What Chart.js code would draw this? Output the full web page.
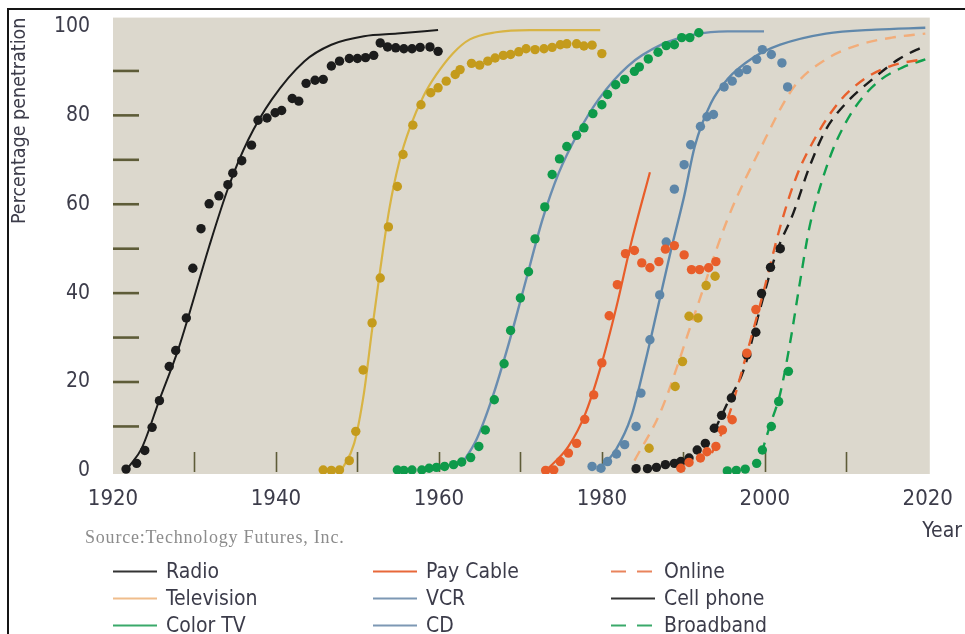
<!DOCTYPE html>
<html>
<head>
<meta charset="utf-8">
<script src="https://cdn.jsdelivr.net/npm/chart.js@4.4.1/dist/chart.umd.min.js"></script>
<style>
  body { margin: 0; background: #fff; }
  #wrap { position: relative; width: 965px; height: 634px; overflow: hidden; }
  #frame { position: absolute; left: 7px; top: 8px; width: 990px; height: 700px; border: 2px solid #151515; }
  #chart { position: absolute; left: 0; top: -18px; }
  .cond { font-family: "DejaVu Sans Condensed", "DejaVu Sans", sans-serif; color: #3c3c4a; }
  #source { position: absolute; left: 85px; top: 527px; font: 18px "Liberation Serif", serif; color: #8c8c8c; letter-spacing: 0.8px; }
  #year { position: absolute; right: 3px; top: 518px; font-size: 21px; }
  .item { position: absolute; height: 26px; font-size: 21px; line-height: 26px; white-space: nowrap; }
  .item svg { position: absolute; left: 0; top: 12px; }
  .item span { position: absolute; left: 53px; top: 0; }
</style>
</head>
<body>
<div id="wrap">
  <canvas id="chart" width="965" height="538"></canvas>
  <div id="frame"></div>
  <div id="source">Source:Technology Futures, Inc.</div>
  <div id="year" class="cond">Year</div>
  <div id="legend"></div>
</div>
<script>
// axis ticks
const xTickLabels = [1920, 1940, 1960, 1980, 2000, 2020];
const yTickLabels = [0, 20, 40, 60, 80, 100];
const xMinorTicks = [1930, 1940, 1950, 1960, 1970, 1980, 1990, 2000, 2010];
const yMinorTicks = [10, 20, 30, 40, 50, 60, 70, 80, 90];

// observed data points [year, percent]
const radioDots = [[1921.6,0.4],[1922.9,1.7],[1923.9,4.6],[1924.8,9.8],[1925.7,15.8],[1926.9,23.5],[1927.7,27.1],[1929.0,34.4],[1929.8,45.6],[1930.8,54.5],[1931.8,60.1],[1933.0,61.9],[1934.1,64.4],[1934.7,67.0],[1935.8,69.8],[1937.0,73.3],[1937.8,78.9],[1938.9,79.4],[1939.9,80.6],[1940.7,81.1],[1942.0,83.8],[1942.8,83.2],[1943.7,87.2],[1944.8,87.9],[1945.8,88.1],[1946.8,91.1],[1947.8,92.2],[1949.0,92.8],[1950.0,92.8],[1951.0,93.0],[1952.0,93.5],[1952.8,96.3],[1953.7,95.4],[1954.7,95.2],[1955.7,95.0],[1956.7,95.0],[1957.7,95.3],[1958.9,95.4],[1959.9,94.4]];
const tvDots = [[1945.8,0.2],[1946.8,0.1],[1947.8,0.2],[1949.0,2.3],[1949.8,8.9],[1950.7,22.7],[1951.8,33.3],[1952.8,43.4],[1953.8,54.9],[1954.9,64.0],[1955.6,71.2],[1956.8,77.8],[1957.8,82.4],[1959.0,85.1],[1959.9,86.2],[1960.9,87.7],[1962.0,89.2],[1962.6,90.3],[1964.0,91.7],[1965.0,91.3],[1966.0,92.2],[1966.9,92.9],[1967.9,93.5],[1968.8,93.7],[1969.8,94.3],[1970.7,95.0],[1971.8,94.8],[1972.9,95.0],[1973.9,95.3],[1974.9,95.9],[1975.7,96.1],[1976.9,96.1],[1977.8,95.6],[1978.8,95.8],[1980.0,93.9]];
const colorTvDots = [[1954.9,0.2],[1955.7,0.1],[1956.7,0.2],[1957.9,0.2],[1958.8,0.6],[1959.7,0.8],[1960.7,1.0],[1961.8,1.4],[1962.8,2.0],[1963.9,3.0],[1964.9,5.5],[1965.7,9.2],[1966.8,16.0],[1968.0,24.1],[1968.8,31.6],[1970.0,38.9],[1971.0,44.8],[1971.8,52.2],[1973.0,59.4],[1973.9,66.7],[1974.8,70.2],[1975.7,73.0],[1976.9,75.5],[1977.8,77.2],[1978.9,80.4],[1980.0,82.4],[1980.7,84.7],[1981.7,86.9],[1982.8,88.1],[1984.0,89.9],[1984.6,90.9],[1985.7,92.7],[1986.9,94.2],[1987.9,95.7],[1988.9,95.9],[1989.8,97.5],[1990.8,97.5],[1991.9,98.6]];
const payCableDots = [[1973.1,0.1],[1974.1,0.2],[1974.9,2.1],[1975.9,4.0],[1976.9,6.2],[1977.9,11.6],[1979.0,17.1],[1980.0,24.3],[1980.9,34.9],[1981.9,41.9],[1982.9,48.9],[1984.0,49.6],[1984.9,46.8],[1985.9,45.7],[1987.0,47.1],[1987.8,49.9],[1988.9,50.7],[1990.1,48.6],[1991.0,45.3],[1992.0,45.3],[1993.1,45.7],[1994.0,47.1]];
const vcrDots = [[1978.8,1.0],[1979.9,0.6],[1980.7,2.1],[1981.8,3.8],[1982.8,5.9],[1984.2,10.0],[1984.8,17.5],[1985.9,29.5],[1987.1,39.6],[1987.9,51.5],[1988.9,63.4],[1990.1,68.9],[1990.9,73.4],[1992.1,77.5],[1992.9,79.7],[1993.7,80.2],[1995.0,86.4],[1996.0,87.7],[1996.8,89.6],[1997.8,90.3],[1999.0,92.6],[1999.7,94.8],[2000.8,93.7],[2002.1,91.8],[2002.8,86.4]];
const cdDots = [[1985.8,5.1],[1989.0,19.0],[1989.9,24.6],[1990.7,34.8],[1991.8,34.4],[1992.8,41.7],[1993.9,43.8]];
const cellDots = [[1984.2,0.5],[1985.6,0.5],[1986.7,0.8],[1987.8,1.4],[1988.9,1.7],[1989.7,2.1],[1990.7,2.9],[1991.7,4.7],[1992.7,6.2],[1993.8,9.6],[1994.7,12.5],[1995.9,16.4],[1997.8,26.1],[1998.9,31.2],[1999.6,39.9],[2000.7,45.8],[2001.9,50.0]];
const onlineDots = [[1989.7,0.6],[1990.7,1.9],[1992.1,2.9],[1992.9,4.3],[1994.0,5.5],[1994.8,9.2],[1996.0,11.5],[1997.8,26.5],[1998.9,36.3]];
const broadbandDots = [[1995.4,0.0],[1996.5,0.1],[1997.6,0.4],[1999.0,1.7],[1999.7,4.7],[2000.8,10.0],[2001.7,15.6],[2002.9,22.4]];

// fitted curves [year, percent]
const radioFit = [[1921.9,0.8],[1923.5,5],[1925.7,16],[1928.0,27.3],[1929.4,35.6],[1931.8,50.5],[1934.2,64],[1936.6,74.5],[1939.5,83.6],[1943.5,92.2],[1946.8,95.9],[1950.8,97.8],[1954.9,98.4],[1959.9,99.2]];
const tvFit = [[1948.0,0],[1949.6,6.2],[1950.8,17.5],[1951.8,31.8],[1952.8,45.3],[1953.9,58.8],[1955.1,69.3],[1956.5,77.5],[1958.1,84.3],[1959.7,89.2],[1961.8,94.1],[1963.8,97.1],[1967.0,98.7],[1971.1,99.2],[1979.8,99.2]];
const colorTvFit = [[1962.6,1.0],[1964.6,7.0],[1966.6,16.7],[1968.6,28.8],[1970.7,43.0],[1972.7,56.5],[1974.7,67.0],[1977.1,76.1],[1979.6,83.6],[1983.2,91.1],[1987.3,95.9],[1991.4,98.2],[1995.4,98.9],[1999.9,98.9]];
const payCableFit = [[1973.1,0],[1975.9,5.5],[1978.0,13.0],[1980.0,24.3],[1981.8,37.0],[1983.6,51.3],[1985.9,67.2]];
const vcrFit = [[1979.4,0],[1981.7,4.7],[1983.6,12.2],[1985.3,24.3],[1986.9,37.0],[1988.5,49.8],[1990.1,61.8],[1991.4,73.0],[1993.4,82.8],[1995.4,88.1],[1998.6,93.0],[2001.9,95.9],[2007.5,98.4],[2013.6,99.3],[2019.7,99.7]];
const cdFit = [[1984.0,2.3],[1987.3,13.7],[1991.3,34.8],[1995.4,56.5],[1999.4,72.3],[2003.5,86.2],[2007.5,92.6],[2011.6,95.9],[2015.6,97.5],[2019.7,98.4]];
const onlineFit = [[1993.5,4.0],[1995.4,11.5],[1997.8,26.5],[1999.8,40.0],[2001.9,55.0],[2003.9,66.3],[2006.3,75.3],[2009.2,83.2],[2012.4,88.4],[2015.6,91.2],[2019.7,92.7]];
const cellFit = [[1993.8,9.0],[1995.4,15.2],[1997.4,22.7],[1999.4,36.3],[2001.4,49.0],[2003.5,58.0],[2005.5,68.5],[2007.5,76.8],[2010.0,82.8],[2013.2,88.1],[2016.4,92.6],[2019.7,95.7]];
const broadbandFit = [[1999.6,4.0],[2000.6,10.0],[2001.9,17.5],[2003.1,28.8],[2004.3,42.3],[2005.5,55.0],[2007.2,66.3],[2008.7,73.8],[2011.2,82.1],[2014.0,87.7],[2016.8,90.7],[2019.7,92.6]];

// legend, in reading order (3 columns)
const legendLabels = ['Radio', 'Pay Cable', 'Online', 'Television', 'VCR', 'Cell phone', 'Color TV', 'CD', 'Broadband'];
const legendColors = ['#333333', '#e8683a', '#e9845c', '#f0bd8c', '#7d98b4', '#333333', '#3aa96a', '#7d98b4', '#3aa96a'];
const legendDashed = [false, false, true, false, false, false, false, false, true];

const pts = arr => arr.map(p => ({ x: p[0], y: p[1] }));

function dots(label, data, color) {
  return { label, data: pts(data), showLine: false, pointRadius: 4.7, pointBorderWidth: 0,
           pointBackgroundColor: color, backgroundColor: color, order: 0 };
}
function fit(label, data, color, dashed, width) {
  return { label, data: pts(data), showLine: true, pointRadius: 0, borderColor: color,
           borderWidth: width || 2, borderDash: dashed ? [11, 8] : [], cubicInterpolationMode: 'monotone',
           fill: false, order: 1 };
}

const bgPlugin = {
  id: 'bg',
  beforeDraw(chart) {
    const { ctx, chartArea: a } = chart;
    ctx.save();
    ctx.fillStyle = '#dcd8cd';
    ctx.fillRect(a.left, a.top, a.right - a.left, a.bottom - a.top);
    ctx.restore();
  },
  // short tick marks drawn inside the plot
  beforeDatasetsDraw(chart) {
    const { ctx, chartArea: a, scales } = chart;
    ctx.save();
    ctx.strokeStyle = '#5e5c38';
    ctx.lineWidth = 1.6;
    xMinorTicks.forEach(v => {
      const px = Math.round(scales.x.getPixelForValue(v)) + 0.5;
      ctx.beginPath(); ctx.moveTo(px, a.bottom - 2); ctx.lineTo(px, a.bottom - 22); ctx.stroke();
    });
    ctx.lineWidth = 2.6;
    yMinorTicks.forEach(v => {
      const py = scales.y.getPixelForValue(v);
      ctx.beginPath(); ctx.moveTo(a.left, py); ctx.lineTo(a.left + 26, py); ctx.stroke();
    });
    ctx.restore();
  }
};

const FONT = '"DejaVu Sans Condensed", "DejaVu Sans", sans-serif';

new Chart(document.getElementById('chart'), {
  type: 'scatter',
  data: {
    datasets: [
      fit('Radio fit', radioFit, '#1c1c1c', false, 2),
      fit('Television fit', tvFit, '#d8b444', false, 2.2),
      fit('Color TV fit', colorTvFit, '#6a8db0', false, 2.4),
      fit('Pay Cable fit', payCableFit, '#e85d2a', false, 2.2),
      fit('VCR fit', vcrFit, '#6088ab', false, 2.4),
      fit('CD fit', cdFit, '#f2ad7a', true, 2.4),
      fit('Online fit', onlineFit, '#e8602c', true, 2.4),
      fit('Cell phone fit', cellFit, '#1c1c1c', true, 2.4),
      fit('Broadband fit', broadbandFit, '#12a04e', true, 2.4),
      dots('Radio', radioDots, '#1c1c1c'),
      dots('Television', tvDots, '#c49b1c'),
      dots('Color TV', colorTvDots, '#0e9a4a'),
      dots('Pay Cable', payCableDots, '#e85d2a'),
      dots('VCR', vcrDots, '#5d86a8'),
      dots('CD', cdDots, '#c49b1c'),
      dots('Online', onlineDots, '#e85d2a'),
      dots('Cell phone', cellDots, '#1c1c1c'),
      dots('Broadband', broadbandDots, '#0e9a4a')
    ]
  },
  options: {
    responsive: false,
    animation: false,
    layout: { padding: { left: 0, top: 0, right: 27, bottom: 0 } },
    plugins: { legend: { display: false }, tooltip: { enabled: false } },
    scales: {
      x: {
        type: 'linear', min: 1920, max: 2020.25,
        afterBuildTicks: s => { s.ticks = xTickLabels.map(v => ({ value: v })); },
        afterFit: s => { s.height = 46; },
        grid: { display: false, drawTicks: false },
        border: { display: false },
        ticks: { padding: 12, color: '#3c3c4a', font: { family: FONT, size: 22 }, maxRotation: 0, autoSkip: false,
                 callback: v => String(v) }
      },
      y: {
        type: 'linear', min: -0.7, max: 102,
        afterBuildTicks: s => { s.ticks = yTickLabels.map(v => ({ value: v })); },
        afterFit: s => { s.width = 113; },
        grid: { display: false, drawTicks: false },
        border: { display: false },
        ticks: { padding: 23, color: '#3c3c4a', font: { family: FONT, size: 21 } },
        title: { display: true, text: 'Percentage penetration', align: 'end', color: '#3c3c4a',
                 font: { family: FONT, size: 19.5 }, padding: { top: 8, bottom: 0 } }
      }
    }
  },
  plugins: [bgPlugin]
});

// legend built from the named arrays
const legend = document.getElementById('legend');
const colX = [113, 373, 611];
const rowY = [558, 585, 612];
legendLabels.forEach((name, i) => {
  const div = document.createElement('div');
  div.className = 'item cond';
  div.style.left = colX[i % 3] + 'px';
  div.style.top = rowY[Math.floor(i / 3)] + 'px';
  const dash = legendDashed[i] ? 'stroke-dasharray="15 11"' : '';
  div.innerHTML = `<svg width="44" height="3"><line x1="0" y1="1.5" x2="44" y2="1.5" stroke="${legendColors[i]}" stroke-width="2.2" ${dash}/></svg><span>${name}</span>`;
  legend.appendChild(div);
});
</script>
</body>
</html>
